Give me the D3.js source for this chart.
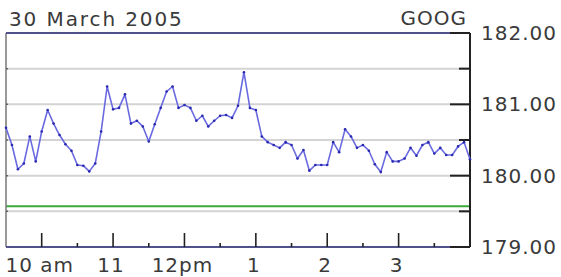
<!DOCTYPE html>
<html><head><meta charset="utf-8">
<script src="https://cdn.jsdelivr.net/npm/d3@7"></script>
<style>
html,body{margin:0;padding:0;background:#fff;}
svg{display:block;}
text{font-family:"DejaVu Sans",Verdana,sans-serif;font-size:20px;fill:#3a3a3a;letter-spacing:1px;}
</style></head>
<body><svg id="c" width="561" height="277"></svg>
<script>
const title = "30 March 2005";
const symbol = "GOOG";
const times = ["9:30","9:35","9:40","9:45","9:50","9:55","10:00","10:05","10:10","10:15","10:20","10:25",
"10:30","10:35","10:40","10:45","10:50","10:55","11:00","11:05","11:10","11:15","11:20","11:25",
"11:30","11:35","11:40","11:45","11:50","11:55","12:00","12:05","12:10","12:15","12:20","12:25",
"12:30","12:35","12:40","12:45","12:50","12:55","13:00","13:05","13:10","13:15","13:20","13:25",
"13:30","13:35","13:40","13:45","13:50","13:55","14:00","14:05","14:10","14:15","14:20","14:25",
"14:30","14:35","14:40","14:45","14:50","14:55","15:00","15:05","15:10","15:15","15:20","15:25",
"15:30","15:35","15:40","15:45","15:50","15:55","16:00"];
const prices = [180.67,180.43,180.09,180.17,180.55,180.20,180.62,180.92,180.73,180.57,
180.44,180.35,180.15,180.14,180.06,180.17,180.62,181.25,180.93,180.95,
181.14,180.73,180.77,180.69,180.48,180.72,180.95,181.18,181.25,180.95,
180.99,180.95,180.77,180.84,180.69,180.77,180.84,180.85,180.81,180.98,
181.45,180.95,180.92,180.55,180.47,180.43,180.39,180.47,180.43,180.24,
180.36,180.07,180.15,180.15,180.15,180.47,180.33,180.65,180.55,180.39,
180.43,180.35,180.16,180.05,180.33,180.20,180.20,180.24,180.39,180.28,
180.43,180.47,180.31,180.39,180.29,180.29,180.41,180.47,180.23];
const prevClose = 179.57;
const yMajor = [182, 181, 180, 179];
const yMajorLabels = ["182.00","181.00","180.00","179.00"];
const yMinor = [181.5, 180.5, 179.5];
const xMajor = ["10:00","11:00","12:00","13:00","14:00","15:00"];
const xMajorLabels = ["10 am","11","12pm","1","2","3"];
const xMinor = ["10:30","11:30","12:30","13:30","14:30","15:30"];
const xDomain = ["9:30","16:00"];

const parse = d3.timeParse("%H:%M");
const svg = d3.select("#c");
const L = 6, R = 470, T = 33, B = 247;
const x = d3.scaleTime().domain(xDomain.map(parse)).range([L, R]);
const y = d3.scaleLinear().domain([179, 182]).range([B, T]);

svg.append("rect").attr("width",561).attr("height",277).attr("fill","#fff");

// gridlines
const gridVals = yMajor.concat(yMinor).filter(v => v > 179 && v < 182);
svg.append("g").selectAll("line").data(gridVals).join("line")
  .attr("x1", L).attr("x2", R).attr("y1", d => y(d)).attr("y2", d => y(d))
  .attr("stroke", "#d4d4d4").attr("stroke-width", 2);

// previous close line
svg.append("line").attr("x1", L).attr("x2", R)
  .attr("y1", y(prevClose)).attr("y2", y(prevClose))
  .attr("stroke", "#3aaa3a").attr("stroke-width", 2);

// left border with tiny ticks
svg.append("line").attr("x1", L).attr("x2", L).attr("y1", T).attr("y2", B)
  .attr("stroke", "#777").attr("stroke-width", 1.5);
svg.append("g").selectAll("line").data(gridVals).join("line")
  .attr("x1", L).attr("x2", L + 2).attr("y1", d => y(d)).attr("y2", d => y(d))
  .attr("stroke", "#666").attr("stroke-width", 1.5);

// top border
svg.append("line").attr("x1", L).attr("x2", R).attr("y1", T).attr("y2", T)
  .attr("stroke", "#50508a").attr("stroke-width", 2);

// bottom axis
const xAxisG = svg.append("g").attr("transform", `translate(0,${B})`);
xAxisG.append("line").attr("x1", L).attr("x2", R).attr("stroke", "#50508a").attr("stroke-width", 2);
xAxisG.selectAll(".maj").data(xMajor).join("line").attr("class","maj")
  .attr("x1", d => x(parse(d))).attr("x2", d => x(parse(d)))
  .attr("y1", -14).attr("y2", 0).attr("stroke", "#222").attr("stroke-width", 1.6);
xAxisG.selectAll(".min").data(xMinor).join("line").attr("class","min")
  .attr("x1", d => x(parse(d))).attr("x2", d => x(parse(d)))
  .attr("y1", -4).attr("y2", 0).attr("stroke", "#222").attr("stroke-width", 1.6);
xAxisG.selectAll("text").data(xMajor).join("text")
  .attr("x", d => x(parse(d)) - 2).attr("y", 25)
  .attr("text-anchor", "middle")
  .text((d, i) => xMajorLabels[i]);

// right axis
const yAxisG = svg.append("g").attr("transform", `translate(${R},0)`);
yAxisG.append("line").attr("y1", T).attr("y2", B).attr("stroke", "#222").attr("stroke-width", 2);
yAxisG.selectAll(".maj").data(yMajor).join("line").attr("class","maj")
  .attr("x1", -20).attr("x2", 0).attr("y1", d => y(d)).attr("y2", d => y(d))
  .attr("stroke", "#222").attr("stroke-width", 2);
yAxisG.selectAll(".min").data(yMinor).join("line").attr("class","min")
  .attr("x1", -11).attr("x2", 0).attr("y1", d => y(d)).attr("y2", d => y(d))
  .attr("stroke", "#222").attr("stroke-width", 2);
yAxisG.selectAll("text").data(yMajor).join("text")
  .attr("x", 11).attr("y", d => y(d) + 7)
  .text((d, i) => yMajorLabels[i]);

// price line
const data = times.map((t, i) => ({t: parse(t), v: prices[i]}));
svg.append("path").datum(data)
  .attr("fill", "none").attr("stroke", "#6a6ae0").attr("stroke-width", 1.6)
  .attr("stroke-linejoin", "round")
  .attr("d", d3.line().x(d => x(d.t)).y(d => y(d.v)));
svg.append("g").selectAll("circle").data(data).join("circle")
  .attr("cx", d => x(d.t)).attr("cy", d => y(d.v)).attr("r", 1.3)
  .attr("fill", "#2828b0");

// titles
svg.append("text").attr("x", 9).attr("y", 26).style("letter-spacing","1.9px").text(title);
svg.append("text").attr("x", 467).attr("y", 25).attr("text-anchor", "end").text(symbol);
</script>
</body></html>
